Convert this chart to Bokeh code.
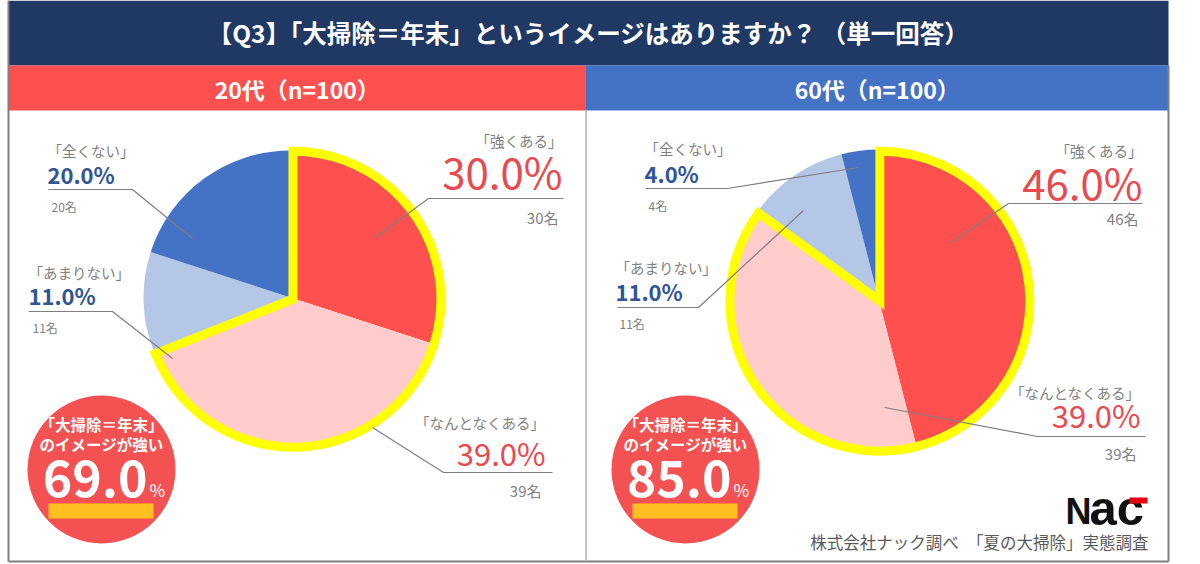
import math
from bokeh.plotting import figure
from bokeh.models import Range1d
from bokeh.core.properties import value
from bokeh.embed import file_html
from bokeh.resources import INLINE

W, H = 1200, 564
JP = "Noto Sans CJK JP"

# ---- survey data ----
title_text = "【Q3】「大掃除＝年末」というイメージはありますか？ （単一回答）"
group_names = ["20代（n=100）", "60代（n=100）"]
answers = ["強くある", "なんとなくある", "あまりない", "全くない"]
pct_20s = [30.0, 39.0, 11.0, 20.0]
pct_60s = [46.0, 39.0, 11.0, 4.0]
count_20s = [30, 39, 11, 20]
count_60s = [46, 39, 11, 4]
yes_answers = ["強くある", "なんとなくある"]
badge_lines = ["「大掃除＝年末」", "のイメージが強い"]
credit_text = "株式会社ナック調べ　「夏の大掃除」実態調査"

# ---- styling ----
slice_colors = ["#FF5050", "#FFCCCC", "#B4C7E7", "#4472C4"]
navy = "#203864"
header_colors = ["#FF5050", "#4472C4"]
red_txt = "#E94A4F"
blue_txt = "#2F5597"
gray_txt = "#7F7F7F"

p = figure(width=W, height=H, x_range=Range1d(0, W), y_range=Range1d(0, H),
           output_backend="svg", toolbar_location=None, min_border=0)
p.axis.visible = False
p.grid.visible = False
p.outline_line_color = None
p.background_fill_color = "white"
p.border_fill_color = "white"


def Y(y):
    return H - y


def txt(x, y, s, size, color, align="left", bold=False, font=JP):
    p.text(x=[x], y=[Y(y)], text=[s], text_font=value(font),
           text_font_size=f"{size}px", text_color=color, text_align=align,
           text_baseline="middle", text_font_style="bold" if bold else "normal")


def seg(xs, ys, color="#7F7F7F", width=1.2):
    p.line(x=xs, y=[Y(v) for v in ys], line_color=color, line_width=width)


# ---- frame, title bar, panel headers ----
FL, FR, FB = 8, 1168, 561
p.quad(left=[FL], right=[FR], top=[Y(0)], bottom=[Y(65)], fill_color=navy, line_color=None)
txt((FL + FR) / 2, 32, title_text, 24.5, "white", align="center", bold=True)

MID = 585.5
panel_x = [(FL, MID), (MID, FR)]
for (l, r), col, name in zip(panel_x, header_colors, group_names):
    p.quad(left=[l], right=[r], top=[Y(65)], bottom=[Y(110)], fill_color=col, line_color=None)
    txt((l + r) / 2, 88, name, 23, "white", align="center", bold=True)

seg([FL, FL], [0, FB], "#7F7F7F", 2)
seg([FR, FR], [65, FB], "#7F7F7F", 2)
seg([FL, FR], [FB, FB], "#7F7F7F", 2)
seg([MID, MID], [110, FB], "#B0B0B0", 1.5)

# ---- label layout (per panel, per answer) ----
# side, text x, label y, pct centre y, count y, pct size, count size, underline x0/x1/y, leader tip
layouts = [
    [
        dict(side="r", x=562, ly=140, py=170, cy=217, ps=42, cs=15, u=(428, 563, 198), tip=(375, 237)),
        dict(side="r", x=545, ly=422, py=452, cy=490, ps=31, cs=15, u=(443, 552, 472), tip=(372, 427)),
        dict(side="l", x=28, ly=272, py=294, cy=327, ps=22, cs=12, u=(28, 112, 311), tip=(172, 358)),
        dict(side="l", x=47, ly=150, py=173, cy=206, ps=22, cs=12, u=(48, 132, 189), tip=(192, 238)),
    ],
    [
        dict(side="r", x=1142, ly=150, py=181, cy=218, ps=42, cs=15, u=(1008, 1142, 203), tip=(951, 242)),
        dict(side="r", x=1140, ly=392, py=414, cy=453, ps=31, cs=15, u=(1037, 1145, 436), tip=(884, 407)),
        dict(side="l", x=615, ly=267, py=290, cy=323, ps=22, cs=12, u=(617, 698, 307), tip=(803, 210)),
        dict(side="l", x=644, ly=148, py=172, cy=205, ps=22, cs=12, u=(645, 727, 188), tip=(858, 167)),
    ],
]
pie_centers = [(290, 297), (878, 298)]
pie_radius = [147, 149]
badge_centers = [(101, 469), (685, 469)]

for gi, (pcts, counts) in enumerate([(pct_20s, count_20s), (pct_60s, count_60s)]):
    cx, cy = pie_centers[gi]
    R = pie_radius[gi]
    total = sum(pcts)
    cum = 0.0
    starts, ends = [], []
    for v in pcts:
        starts.append(math.pi / 2 - 2 * math.pi * cum / total)
        cum += v
        ends.append(math.pi / 2 - 2 * math.pi * cum / total)
    p.wedge(x=[cx] * len(pcts), y=[Y(cy)] * len(pcts), radius=R,
            start_angle=starts, end_angle=ends, direction="clock",
            fill_color=slice_colors, line_color=None)

    # highlighted outline around the "image is strong" answers
    yes_share = sum(v for a, v in zip(answers, pcts) if a in yes_answers)
    a0 = math.pi / 2
    a1 = math.pi / 2 - 2 * math.pi * yes_share / total
    am = (a0 + a1) / 2
    off = 3
    p.wedge(x=[cx + off * math.cos(am)], y=[Y(cy) + off * math.sin(am)], radius=R + 1,
            start_angle=[a0], end_angle=[a1], direction="clock",
            fill_color=None, line_color="#FFFF00", line_width=9, line_join="miter")

    # leader lines and labels
    for ai, lay in enumerate(layouts[gi]):
        ux0, ux1, uy = lay["u"]
        tx, ty = lay["tip"]
        if lay["side"] == "r":
            seg([tx, ux0, ux1], [ty, uy, uy])
            align, pcol, pbold = "right", red_txt, False
        else:
            seg([tx, ux1, ux0], [ty, uy, uy])
            align, pcol, pbold = "left", blue_txt, True
        txt(lay["x"], lay["ly"], f"「{answers[ai]}」", 14.5, gray_txt, align=align)
        txt(lay["x"], lay["py"], f"{pcts[ai]:.1f}%", lay["ps"], pcol, align=align, bold=pbold)
        cxp = lay["x"] - 4 if lay["side"] == "r" else lay["x"] + 4
        txt(cxp, lay["cy"], f"{counts[ai]}名", lay["cs"], gray_txt, align=align)

    # summary badge
    bx, by = badge_centers[gi]
    p.circle(x=[bx], y=[Y(by)], radius=74, fill_color="#F45252", line_color=None)
    txt(bx, 423, badge_lines[0], 15.5, "white", align="center", bold=True)
    txt(bx, 443, badge_lines[1], 15.5, "white", align="center", bold=True)
    p.quad(left=[bx - 53], right=[bx + 52], top=[Y(503)], bottom=[Y(518)],
           fill_color="#FDC020", line_color=None)
    txt(bx + 46, 478, f"{yes_share:.1f}", 50, "white", align="right", bold=True)
    txt(bx + 48, 489, "%", 17, "white", align="left")

# ---- company logo and credit ----
txt(1065, 511, "N", 36, "#111111", bold=True, font="Liberation Sans")
txt(1089, 507, "ac", 49, "#111111", bold=True, font="Liberation Sans")
p.quad(left=[1129], right=[1147], top=[Y(497)], bottom=[Y(503)],
       fill_color="#E60012", line_color=None)
txt(1148, 541, credit_text, 16.5, "#595959", align="right")

open("out.html", "w").write(file_html(p, INLINE))
